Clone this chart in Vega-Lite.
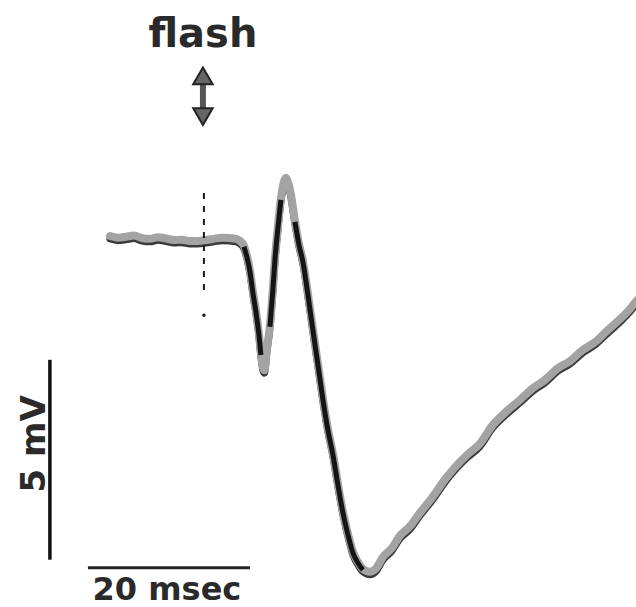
{
  "$schema": "https://vega.github.io/schema/vega-lite/v6.json",
  "width": 636,
  "height": 607,
  "autosize": {"type": "none"},
  "padding": 0,
  "background": "white",
  "config": {"view": {"stroke": null}},
  "datasets": {
    "trace": [
      {"t": -11.27, "v": 0.07}, {"t": -10.3, "v": 0.03}, {"t": -9.33, "v": 0.05}, {"t": -8.36, "v": 0.08},
      {"t": -7.39, "v": 0.02}, {"t": -6.42, "v": 0.0}, {"t": -5.45, "v": 0.04}, {"t": -4.48, "v": 0.01},
      {"t": -3.52, "v": -0.03}, {"t": -2.55, "v": -0.02}, {"t": -1.58, "v": -0.05}, {"t": -0.61, "v": -0.05},
      {"t": 0.36, "v": -0.03}, {"t": 1.33, "v": 0.0}, {"t": 2.3, "v": 0.03}, {"t": 3.27, "v": 0.02},
      {"t": 4.0, "v": 0.0}, {"t": 4.48, "v": -0.05}, {"t": 4.97, "v": -0.17}, {"t": 5.33, "v": -0.42},
      {"t": 5.7, "v": -0.78}, {"t": 6.06, "v": -1.3}, {"t": 6.42, "v": -1.76}, {"t": 6.79, "v": -2.33},
      {"t": 7.03, "v": -2.82}, {"t": 7.27, "v": -3.15}, {"t": 7.45, "v": -3.22}, {"t": 7.76, "v": -2.7},
      {"t": 8.12, "v": -2.13}, {"t": 8.48, "v": -1.23}, {"t": 8.73, "v": -0.49}, {"t": 9.09, "v": 0.29},
      {"t": 9.45, "v": 0.98}, {"t": 9.82, "v": 1.4}, {"t": 10.06, "v": 1.5}, {"t": 10.3, "v": 1.4},
      {"t": 10.67, "v": 1.08}, {"t": 11.15, "v": 0.44}, {"t": 11.64, "v": -0.12}, {"t": 12.12, "v": -0.54},
      {"t": 12.73, "v": -1.35}, {"t": 13.33, "v": -2.21}, {"t": 13.94, "v": -3.06}, {"t": 14.55, "v": -3.92},
      {"t": 15.15, "v": -4.66}, {"t": 15.76, "v": -5.27}, {"t": 16.36, "v": -6.0}, {"t": 16.97, "v": -6.69},
      {"t": 17.58, "v": -7.23}, {"t": 18.18, "v": -7.67}, {"t": 18.79, "v": -7.92}, {"t": 19.39, "v": -8.09},
      {"t": 20.24, "v": -8.16}, {"t": 20.97, "v": -8.08}, {"t": 21.82, "v": -7.8}, {"t": 22.91, "v": -7.58},
      {"t": 23.88, "v": -7.28}, {"t": 25.09, "v": -7.05}, {"t": 26.3, "v": -6.72}, {"t": 27.88, "v": -6.32},
      {"t": 29.33, "v": -5.9}, {"t": 30.55, "v": -5.6}, {"t": 31.99, "v": -5.3}, {"t": 33.58, "v": -5.02},
      {"t": 35.15, "v": -4.56}, {"t": 36.85, "v": -4.22}, {"t": 38.42, "v": -3.95}, {"t": 40.0, "v": -3.66},
      {"t": 41.45, "v": -3.46}, {"t": 43.03, "v": -3.17}, {"t": 44.48, "v": -3.0}, {"t": 45.94, "v": -2.74},
      {"t": 47.52, "v": -2.53}, {"t": 48.97, "v": -2.26}, {"t": 50.55, "v": -1.97}, {"t": 51.76, "v": -1.72},
      {"t": 52.48, "v": -1.54}, {"t": 53.2, "v": -1.4}
    ],
    "flash": [{"t": 0.12, "v": 1.15, "v2": -1.35}],
    "flashdot": [{"t": 0.12, "v": -1.85}],
    "arrow": [{"t": 0.0, "v": 4.0, "v2": 3.05}],
    "arrowheads": [
      {"t": 0.0, "v": 4.02, "dir": "up"},
      {"t": 0.0, "v": 3.02, "dir": "down"}
    ],
    "vbar": [{"t": -18.55, "v": -2.94, "v2": -7.84}],
    "hbar": [{"t": -13.94, "t2": 5.7, "v": -8.04}],
    "labels": [
      {"t": 0.0, "v": 4.73, "label": "flash", "kind": "flash"},
      {"t": -4.36, "v": -8.82, "label": "20 msec", "kind": "time"}
    ],
    "vlabel": [{"t": -19.1, "v": -5.0, "label": "5 mV"}]
  },
  "encoding": {
    "x": {"field": "t", "type": "quantitative", "axis": null, "scale": {"domain": [-24.6, 52.5], "nice": false, "zero": false}},
    "y": {"field": "v", "type": "quantitative", "axis": null, "scale": {"domain": [-9.0, 5.88], "nice": false, "zero": false}}
  },
  "layer": [
    {
      "data": {"name": "trace"},
      "mark": {"type": "line", "color": "#3a3a3a", "strokeWidth": 7, "interpolate": "monotone", "strokeCap": "round", "yOffset": 2}
    },
    {
      "data": {"name": "trace"},
      "mark": {"type": "line", "color": "#a3a3a3", "strokeWidth": 8, "interpolate": "monotone", "strokeCap": "round", "yOffset": -1}
    },
    {
      "data": {"name": "trace"},
      "transform": [{"filter": {"field": "t", "range": [11.0, 19.6]}}],
      "mark": {"type": "line", "color": "#151515", "strokeWidth": 5, "interpolate": "monotone"}
    },
    {
      "data": {"name": "trace"},
      "transform": [{"filter": {"field": "t", "range": [4.6, 7.1]}}],
      "mark": {"type": "line", "color": "#151515", "strokeWidth": 5, "interpolate": "monotone"}
    },
    {
      "data": {"name": "trace"},
      "transform": [{"filter": {"field": "t", "range": [7.8, 9.5]}}],
      "mark": {"type": "line", "color": "#151515", "strokeWidth": 5, "interpolate": "monotone"}
    },
    {
      "data": {"name": "flash"},
      "mark": {"type": "rule", "color": "#1a1a1a", "strokeWidth": 2, "strokeDash": [6, 7]},
      "encoding": {"y2": {"field": "v2"}}
    },
    {
      "data": {"name": "flashdot"},
      "mark": {"type": "point", "filled": true, "color": "#1a1a1a", "size": 12, "opacity": 1}
    },
    {
      "data": {"name": "arrow"},
      "mark": {"type": "rule", "color": "#555555", "strokeWidth": 6},
      "encoding": {"y2": {"field": "v2"}}
    },
    {
      "data": {"name": "arrowheads"},
      "mark": {"type": "point", "filled": true, "color": "#666666", "size": 380, "opacity": 1, "stroke": "#222222", "strokeWidth": 2},
      "encoding": {
        "shape": {"field": "dir", "type": "nominal", "scale": {"domain": ["up", "down"], "range": ["triangle-up", "triangle-down"]}, "legend": null}
      }
    },
    {
      "data": {"name": "vbar"},
      "mark": {"type": "rule", "color": "#111111", "strokeWidth": 3.5},
      "encoding": {"y2": {"field": "v2"}}
    },
    {
      "data": {"name": "hbar"},
      "mark": {"type": "rule", "color": "#222222", "strokeWidth": 3},
      "encoding": {"x2": {"field": "t2"}}
    },
    {
      "data": {"name": "labels"},
      "mark": {"type": "text", "font": "DejaVu Sans", "fontWeight": "bold", "color": "#2a2a2a", "baseline": "alphabetic", "align": "center"},
      "encoding": {
        "text": {"field": "label"},
        "size": {"field": "kind", "type": "nominal", "scale": {"domain": ["flash", "time"], "range": [40, 32]}, "legend": null}
      }
    },
    {
      "data": {"name": "vlabel"},
      "mark": {"type": "text", "font": "DejaVu Sans", "fontWeight": "bold", "color": "#2a2a2a", "baseline": "alphabetic", "align": "center", "angle": 270, "fontSize": 34},
      "encoding": {"text": {"field": "label"}}
    }
  ]
}
